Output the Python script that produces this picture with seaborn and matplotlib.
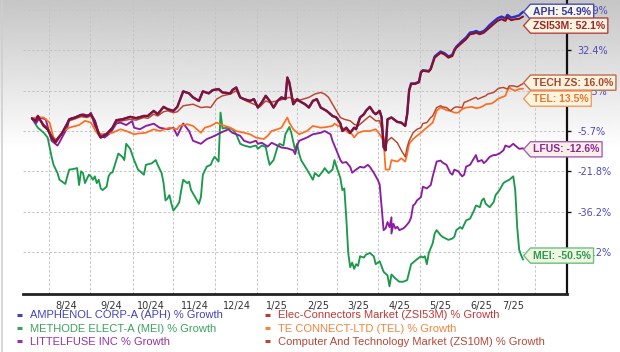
import matplotlib.pyplot as plt
import numpy as np
import pandas as pd
import seaborn as sns
from matplotlib.lines import Line2D
from matplotlib.path import Path

# x = trading-day index (0 = mid Jul 2024), y = % growth
APH_DAY = [0, 2, 3, 6, 8, 10, 12, 13, 15, 18, 19, 22, 25, 28, 30, 32, 34, 35, 38, 41, 43, 46, 50, 53, 57, 59,
           62, 64, 67, 69, 72, 74, 77, 80, 82, 85, 87, 90, 92, 95, 97, 101, 102, 104, 106, 108, 111, 113, 115,
           117, 119, 121, 123, 125, 127, 129, 130, 131, 133, 135, 136, 139, 141, 143, 145, 147, 150, 153, 155,
           157, 158, 160, 162, 164, 165, 167, 169, 170, 172, 174, 175, 177, 178, 179, 180, 181, 183, 186, 188,
           190, 191, 192, 193, 195, 197, 198, 199, 202, 203, 205, 207, 208, 210, 212, 214, 215, 216, 219, 221,
           223, 225, 226, 228, 230, 231, 233, 235, 237, 239, 241, 242, 244, 246, 248, 249, 250]
APH_PCT = [0, -1.1, 1.1, -3.4, -4.9, -8.3, -10.2, -8.9, -7.0, -2.3, -0.4, 0.4, 1.6, 1.1, 1.9, -1.2, -7.0, -8.3,
           -7.0, -4.2, -0.8, -0.4, 0.7, 0.1, 1.1, 1.1, 3.4, 1.9, 5.2, 4.2, 3.4, 5.2, 12.2, 11.3, 9.5, 7.9, 12.2,
           11.3, 12.8, 13.3, 11.7, 11.3, 12.8, 14.1, 9.5, 8.7, 7.9, 8.7, 4.9, 7.2, 10.2, 7.9, 4.9, 7.9, 9.5, 8.7,
           19.0, 16.6, 6.4, 8.7, 7.9, 6.4, 4.9, 7.9, 8.7, 4.9, 3.4, 1.1, 0.4, -2.3, -5.7, -4.2, -6.4, -4.2, -4.9,
           0.4, 1.9, 3.4, 5.2, 2.6, 1.9, 3.4, 0.4, -12.1, -13.4, -0.4, 0.4, -1.6, -1.9, -3.4, 1.9, 12.8, 16.1,
           16.1, 16.9, 21.7, 22.6, 22.2, 23.4, 29.4, 31.0, 31.8, 31.0, 29.4, 30.2, 32.7, 34.5, 37.9, 39.9, 42.8,
           43.2, 43.7, 42.8, 43.7, 44.7, 47.2, 49.2, 51.1, 52.1, 51.1, 53.1, 51.5, 52.1, 52.8, 53.9, 54.9]

ZSI53M_DAY = APH_DAY
ZSI53M_PCT = [0, -1.1, 1.1, -3.4, -4.9, -8.3, -10.2, -8.9, -7.0, -2.3, -0.4, 0.4, 1.6, 1.1, 1.9, -1.2, -7.0, -8.3,
              -7.0, -4.2, -0.8, -0.4, 0.7, 0.1, 1.1, 1.1, 3.4, 1.9, 5.2, 4.2, 3.4, 5.2, 12.2, 11.3, 9.5, 7.9, 12.2,
              11.3, 12.8, 13.3, 11.7, 11.3, 12.8, 14.1, 9.5, 8.7, 7.9, 8.7, 4.9, 7.2, 10.2, 7.9, 4.9, 7.9, 9.5, 8.7,
              19.0, 16.6, 6.4, 8.7, 7.9, 6.4, 4.9, 7.9, 8.7, 4.9, 3.4, 1.1, 0.4, -2.3, -5.7, -4.2, -6.4, -4.2, -4.9,
              0.4, 1.9, 3.4, 5.2, 2.6, 1.9, 3.4, 0.4, -12.1, -13.4, -0.4, 0.4, -1.6, -1.9, -3.4, 1.9, 12.5, 15.8,
              15.8, 16.6, 21.4, 22.3, 21.9, 23.1, 28.8, 30.4, 31.2, 30.4, 28.8, 29.6, 32.1, 33.9, 36.9, 38.9, 41.8,
              42.2, 42.7, 41.8, 42.7, 43.7, 45.7, 47.7, 49.6, 50.6, 49.6, 51.6, 50.0, 50.6, 50.8, 51.5, 52.1]

MEI_DAY = [0, 3, 6, 8, 9, 10, 11, 13, 14, 17, 18, 19, 21, 23, 24, 25, 26, 27, 29, 30, 31, 32, 33, 34, 35, 36, 38,
           39, 40, 41, 43, 44, 46, 47, 48, 50, 52, 53, 54, 56, 57, 58, 61, 63, 64, 66, 67, 68, 69, 70, 71, 72, 74,
           75, 76, 77, 79, 80, 81, 82, 84, 85, 86, 87, 89, 91, 92, 93, 95, 96, 97, 100, 102, 104, 106, 108, 111,
           114, 115, 117, 119, 120, 121, 123, 125, 126, 128, 129, 131, 132, 134, 135, 136, 137, 140, 142, 143, 144,
           146, 148, 149, 151, 153, 154, 155, 157, 158, 159, 160, 161, 162, 163, 164, 165, 166, 167, 169, 170, 172,
           174, 175, 177, 179, 181, 182, 183, 185, 187, 189, 191, 192, 193, 194, 196, 198, 199, 200, 201, 202, 204,
           205, 206, 208, 209, 212, 214, 215, 216, 218, 219, 221, 223, 225, 226, 228, 229, 230, 231, 233, 235, 236,
           238, 240, 241, 243, 245, 246, 247, 248, 249, 250]
MEI_PCT = [0, -4.2, -6.4, -8.3, -12.1, -16.0, -19.2, -22.4, -24.8, -26.3, -23.6, -21.1, -20.9, -20.5, -26.7, -21.8,
           -22.4, -26.0, -23.0, -23.6, -24.8, -23.6, -26.0, -24.8, -27.9, -28.5, -27.3, -23.6, -22.4, -22.2, -17.3,
           -14.7, -16.0, -17.3, -10.8, -12.8, -17.3, -19.2, -21.1, -22.4, -23.0, -19.2, -18.6, -17.3, -19.2, -22.4,
           -26.0, -32.2, -31.5, -30.3, -33.4, -35.8, -34.0, -32.8, -28.5, -24.8, -26.0, -25.5, -28.5, -29.7, -32.2,
           -33.4, -31.0, -23.0, -19.9, -19.2, -17.3, -16.0, -17.9, 2.6, -4.5, -4.2, -4.9, -7.0, -10.8, -11.5, -12.1,
           -11.5, -12.8, -11.5, -12.1, -16.0, -19.2, -17.3, -12.1, -10.8, -11.5, -7.0, -3.9, -6.4, -13.4, -10.8,
           -14.7, -17.3, -21.1, -23.6, -24.8, -22.4, -23.6, -21.8, -20.5, -22.4, -21.1, -17.3, -19.9, -24.2, -28.5,
           -27.9, -38.0, -48.5, -52.8, -51.4, -53.3, -51.9, -52.4, -49.5, -49.9, -49.0, -48.5, -49.5, -51.9, -51.0,
           -54.2, -55.3, -58.6, -55.0, -56.2, -57.2, -57.2, -56.7, -54.3, -51.9, -51.4, -50.4, -49.5, -49.9, -49.5,
           -51.9, -48.5, -45.6, -42.7, -41.7, -43.2, -43.7, -44.6, -44.2, -43.7, -41.7, -40.8, -41.3, -38.8, -38.3,
           -35.8, -34.0, -34.6, -32.2, -31.5, -33.4, -34.6, -32.8, -30.3, -28.5, -26.0, -25.5, -24.8, -23.6, -28.5,
           -40.8, -47.5, -49.2, -50.5]

TEL_DAY = [0, 2, 6, 9, 11, 13, 16, 19, 24, 27, 30, 33, 36, 41, 45, 48, 52, 54, 58, 62, 65, 70, 74, 75, 79, 82, 86,
           88, 91, 94, 97, 101, 104, 108, 111, 114, 118, 120, 122, 125, 127, 129, 130, 131, 133, 136, 140, 143, 147,
           150, 153, 154, 156, 158, 161, 163, 164, 166, 169, 172, 175, 177, 179, 180, 182, 183, 186, 188, 190, 191,
           192, 194, 196, 198, 200, 202, 204, 206, 208, 209, 211, 213, 215, 217, 219, 221, 224, 226, 228, 230, 231,
           234, 236, 237, 239, 241, 242, 243, 244, 246, 248, 250]
TEL_PCT = [0, 0.4, 0.4, -1.9, -8.3, -9.6, -5.7, -4.2, -3.0, -1.1, -1.9, -6.4, -7.0, -6.4, -4.9, -5.7, -7.0, -6.7,
           -6.4, -4.9, -5.7, -4.2, -4.9, -3.4, -2.6, -3.4, -6.4, -4.2, -3.4, -1.9, -3.0, -4.2, -5.7, -6.4, -7.0,
           -8.3, -8.9, -7.6, -5.7, -4.9, -4.2, -1.1, 0.4, -1.9, -4.9, -7.0, -5.7, -3.4, -4.2, -3.9, -3.4, -2.4,
           -3.4, -4.2, -6.4, -7.0, -8.3, -6.4, -5.7, -5.7, -4.9, -7.0, -9.6, -21.1, -21.1, -17.3, -17.9, -16.6,
           -17.9, -15.0, -10.8, -8.9, -7.6, -6.4, -4.9, -3.4, -1.9, 3.4, 4.9, 4.6, 3.7, 3.4, 2.6, 2.6, 4.2, 4.9,
           5.2, 4.6, 4.9, 5.7, 6.4, 6.7, 7.9, 8.7, 9.5, 10.2, 12.5, 14.1, 13.3, 12.5, 13.3, 13.5]

LFUS_DAY = [0, 2, 4, 7, 10, 13, 14, 18, 19, 24, 26, 29, 30, 32, 35, 37, 40, 43, 45, 48, 51, 52, 55, 58, 62, 65, 69,
            72, 74, 77, 80, 82, 86, 89, 91, 93, 96, 100, 102, 106, 108, 111, 114, 115, 117, 120, 122, 125, 127, 130,
            133, 134, 135, 136, 140, 143, 147, 149, 152, 153, 155, 157, 158, 160, 162, 163, 165, 167, 169, 171, 172,
            174, 176, 177, 178, 179, 180, 181, 182, 183, 183, 184, 185, 186, 187, 189, 190, 192, 193, 194, 195, 196,
            198, 199, 201, 203, 204, 206, 208, 209, 211, 213, 214, 215, 217, 219, 220, 221, 223, 225, 226, 227, 229,
            230, 231, 233, 235, 236, 238, 240, 241, 243, 245, 246, 248, 250]
LFUS_PCT = [0, -2.3, 0.4, -0.4, -9.6, -11.5, -10.2, -4.2, -0.4, 1.1, 1.9, 1.1, 2.6, -3.4, -7.6, -8.3, -6.4, -2.3,
            -1.9, -3.0, -1.2, -4.2, -4.9, -3.4, -2.4, -4.2, -4.9, -4.2, -7.6, -2.3, -5.7, -9.6, -10.8, -8.9, -8.3,
            -7.6, -6.4, -4.9, -6.4, -7.6, -9.6, -10.4, -9.6, -10.8, -10.4, -11.9, -10.4, -11.5, -12.3, -12.6, -13.4,
            -14.9, -11.5, -9.6, -8.3, -7.0, -6.4, -5.7, -7.0, -9.6, -13.4, -17.3, -18.4, -18.1, -20.0, -22.3, -21.1,
            -20.0, -20.3, -19.2, -20.0, -22.3, -24.8, -26.5, -34.6, -41.7, -41.2, -39.3, -40.8, -37.9, -42.7, -39.8,
            -41.2, -40.7, -41.7, -41.2, -40.7, -39.3, -37.9, -34.0, -33.4, -32.2, -31.0, -27.3, -27.9, -26.7, -23.6,
            -17.9, -17.5, -18.3, -19.2, -22.4, -23.0, -21.1, -21.8, -23.6, -23.0, -19.9, -19.2, -16.6, -15.3, -17.9,
            -17.3, -18.5, -17.9, -16.0, -15.3, -15.3, -14.7, -13.4, -11.5, -12.1, -10.8, -11.5, -12.8, -12.6]

ZS10M_DAY = [0, 2, 3, 6, 8, 10, 12, 13, 15, 18, 19, 22, 25, 28, 30, 32, 34, 35, 38, 41, 43, 46, 50, 53, 57, 59, 62,
             64, 67, 69, 72, 74, 77, 82, 86, 89, 91, 94, 97, 101, 104, 106, 109, 113, 116, 119, 121, 125, 128, 131,
             135, 138, 141, 144, 147, 149, 151, 153, 155, 157, 159, 162, 164, 166, 169, 172, 175, 177, 179, 180, 181,
             183, 186, 188, 190, 191, 192, 194, 196, 198, 199, 201, 203, 204, 206, 208, 209, 211, 213, 215, 216, 219,
             220, 222, 224, 226, 227, 229, 231, 232, 235, 237, 238, 240, 242, 243, 245, 247, 248, 250]
ZS10M_PCT = [0, -1.0, 0.8, -2.8, -4.2, -7.4, -9.6, -8.5, -6.6, -2.6, -1.1, -0.2, 0.8, 0.4, 1.1, -1.5, -6.4, -7.6,
             -6.6, -4.5, -1.5, -1.1, -0.4, -0.8, 0.4, 0.0, 1.9, 1.1, 3.0, 3.4, 2.6, 3.0, 5.7, 6.4, 4.9, 5.2, 4.9,
             8.7, 10.2, 11.0, 12.5, 9.5, 7.9, 6.4, 5.2, 7.9, 7.2, 7.9, 8.7, 9.5, 7.9, 8.7, 9.5, 11.0, 11.7, 11.0,
             9.5, 6.4, 3.4, 0.4, -0.4, -1.1, -2.6, -3.4, -1.1, 1.1, -1.1, -1.1, -8.0, -12.1, -9.6, -8.3, -10.4,
             -13.4, -16.0, -12.1, -9.6, -6.4, -4.9, -4.2, -2.3, -1.9, 0.4, 1.1, 4.9, 5.7, 5.2, 4.9, 3.4, 4.9, 5.2,
             4.9, 7.2, 7.9, 8.7, 9.5, 8.7, 9.5, 10.2, 11.0, 11.7, 13.3, 13.8, 14.1, 13.3, 14.9, 14.9, 14.4, 14.9,
             16.0]

# right axis: gridlines are evenly spaced but the labels are not, so map them piecewise
TICK_PCT = [-48.2, -36.2, -21.8, -5.7, 12.5, 32.4, 55.9]
SCALE_PCT = [-61.0] + TICK_PCT + [62.0]
SCALE_POS = [-1.05, 0, 1, 2, 3, 4, 5, 6, 6.25]

MONTH_LABELS = ["8/24", "9/24", "10/24", "11/24", "12/24", "1/25", "2/25", "3/25", "4/25", "5/25", "6/25", "7/25"]
MONTH_LABEL_DAY = [17.7, 40.2, 60.4, 83, 104.5, 124.6, 145.6, 166.1, 187, 208, 228.9, 245]
MONTH_GRID_DAY = [8.8, 29.5, 51.3, 71.9, 93.1, 114.7, 134.7, 155.4, 176.3, 197.5, 217.3, 237.3, 256]

SERIES = {
    "APH": (APH_DAY, APH_PCT),
    "ZSI53M": (ZSI53M_DAY, ZSI53M_PCT),
    "MEI": (MEI_DAY, MEI_PCT),
    "TEL": (TEL_DAY, TEL_PCT),
    "LFUS": (LFUS_DAY, LFUS_PCT),
    "ZS10M": (ZS10M_DAY, ZS10M_PCT),
}
LINE_COLORS = {"APH": "#2e2ec4", "ZSI53M": "#8e1020", "MEI": "#1c9a4c", "TEL": "#ff6d1f",
               "LFUS": "#8b1ea0", "ZS10M": "#b8442c"}
LINE_WIDTHS = {"APH": 1.75, "ZSI53M": 1.45, "MEI": 1.35, "TEL": 1.25, "LFUS": 1.35, "ZS10M": 1.05}
DRAW_ORDER = ["MEI", "LFUS", "TEL", "ZS10M", "APH", "ZSI53M"]

LEGEND_LEFT = [("AMPHENOL CORP-A (APH) % Growth", "#4343b8"),
               ("METHODE ELECT-A (MEI) % Growth", "#3aa35c"),
               ("LITTELFUSE INC % Growth", "#9a30a6")]
LEGEND_RIGHT = [("Elec-Connectors Market (ZSI53M) % Growth", "#c0393a"),
                ("TE CONNECT-LTD (TEL) % Growth", "#f5843c"),
                ("Computer And Technology Market (ZS10M) % Growth", "#b5483a")]

# name, tag prefix, text colour, edge colour, face colour, vertical dodge (px)
END_TAGS = [
    ("APH", "APH", "#3535aa", "#4a4ac0", "#f8f6e4", 0),
    ("ZSI53M", "ZSI53M", "#a0222a", "#b8403f", "#fbf4de", -9),
    ("ZS10M", "TECH ZS", "#a8472f", "#c06a50", "#fbf3de", 1),
    ("TEL", "TEL", "#f07528", "#f59a60", "#fdf5e0", -10),
    ("LFUS", "LFUS", "#8e2598", "#a860b0", "#f8efe6", -1),
    ("MEI", "MEI", "#2e9a50", "#6cbf80", "#eef6e0", 4),
]


def _tag(x0, y0, width, height, mutation_size):
    pad = 0.25 * mutation_size
    x0, y0 = x0 - pad, y0 - pad
    width, height = width + 2 * pad, height + 2 * pad
    tip = 0.45 * height
    verts = [(x0, y0), (x0 + width, y0), (x0 + width, y0 + height), (x0, y0 + height),
             (x0 - tip, y0 + height / 2), (x0, y0)]
    return Path(verts, closed=True)


def _fwd(v):
    return np.interp(np.asarray(v, dtype=float), SCALE_PCT, SCALE_POS)


def _inv(s):
    return np.interp(np.asarray(s, dtype=float), SCALE_POS, SCALE_PCT)


def main() -> None:
    sns.set_theme(style="white")
    plt.rcParams["font.family"] = ["DejaVu Sans"]

    fig = plt.figure(figsize=(6.2, 3.52), dpi=100)

    # grey-to-white wash behind everything
    bg = fig.add_axes([0, 0, 1, 1], zorder=-10)
    rows = np.arange(352)
    shade = np.clip(0.775 + 0.225 * rows / 150.0, 0, 1)[:, None]
    bg.imshow(np.repeat(shade, 2, axis=1), cmap="gray", vmin=0, vmax=1, aspect="auto",
              extent=[0, 1, 0, 1], interpolation="bilinear")
    bg.axis("off")
    fig.add_artist(Line2D([0.003, 0.003], [0, 1], transform=fig.transFigure, color="#cfcfcf", lw=1.2))

    ax = fig.add_axes([22.7 / 620, 1 - 294.3 / 352, 544 / 620, 294.3 / 352])
    ax.set_facecolor("none")
    ax.set_yscale("function", functions=(_fwd, _inv))

    df = pd.concat(
        [pd.DataFrame({"day": d, "pct": p, "series": k}) for k, (d, p) in SERIES.items()],
        ignore_index=True,
    )
    sns.lineplot(data=df, x="day", y="pct", hue="series", size="series", hue_order=DRAW_ORDER,
                 size_order=DRAW_ORDER, palette=LINE_COLORS, sizes=LINE_WIDTHS, estimator=None,
                 sort=False, legend=False, ax=ax)
    for line in ax.lines:
        line.set_solid_joinstyle("round")

    ax.set_xlim(-4.7, 272.2)
    ax.set_ylim(SCALE_PCT[0], SCALE_PCT[-1])
    ax.set_xlabel("")
    ax.set_ylabel("")

    ax.set_xticks(MONTH_LABEL_DAY)
    ax.set_xticklabels(MONTH_LABELS)
    ax.set_xticks(MONTH_GRID_DAY, minor=True)
    ax.tick_params(axis="x", which="both", length=0, pad=5, labelsize=7, labelcolor="#333333")
    ax.grid(which="minor", axis="x", color="#c4c4c4", lw=0.7, ls=(0, (2.5, 2)))
    ax.grid(which="major", axis="x", visible=False)

    ax.yaxis.tick_right()
    ax.set_yticks(TICK_PCT)
    ax.set_yticklabels([f"{v:.1f}%" for v in TICK_PCT])
    ax.yaxis.set_minor_locator(plt.NullLocator())
    ax.tick_params(axis="y", which="major", right=True, length=3, width=1, color="#111111", pad=4.5,
                   labelsize=7, labelcolor="#4b4bb8")
    ax.grid(which="major", axis="y", color="#c4c4c4", lw=0.7, ls=(0, (2.5, 2)))

    for side in ("left", "top"):
        ax.spines[side].set_visible(False)
    ax.spines["right"].set_linewidth(1.6)
    ax.spines["right"].set_color("#111111")
    ax.spines["bottom"].set_linewidth(2.0)
    ax.spines["bottom"].set_color("#222222")

    for name, prefix, txt_c, edge_c, face_c, dy in END_TAGS:
        days, pcts = SERIES[name]
        ax.annotate(f"{prefix}: {pcts[-1]:.1f}%", xy=(days[-1], pcts[-1]), xytext=(10, dy),
                    textcoords="offset pixels", ha="left", va="center", fontsize=7.5,
                    fontweight="bold", family=["Liberation Sans", "DejaVu Sans"], color=txt_c,
                    annotation_clip=False, zorder=6,
                    bbox=dict(boxstyle=_tag, fc=face_c, ec=edge_c, lw=1.0))

    prop = {"family": ["Liberation Sans", "DejaVu Sans"], "size": 8}
    for items, x_px in ((LEGEND_LEFT, 17), (LEGEND_RIGHT, 265)):
        handles = [Line2D([], [], color=c, lw=2.2, solid_capstyle="butt") for _, c in items]
        fig.legend(handles=handles, labels=[t for t, _ in items], loc="upper left",
                   bbox_to_anchor=(x_px / 620, 1 - 310.5 / 352), frameon=False, prop=prop,
                   handlelength=0.45, handletextpad=0.7, labelspacing=0.3, borderpad=0,
                   borderaxespad=0, labelcolor=[c for _, c in items])

    fig.savefig("out.png", dpi=100)
    plt.close(fig)


if __name__ == "__main__":
    main()
